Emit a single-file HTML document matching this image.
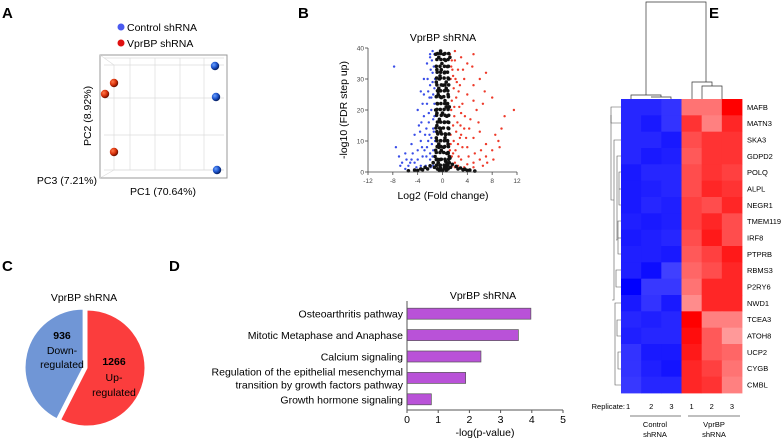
<!DOCTYPE html>
<html><head><meta charset="utf-8"><style>
html,body{margin:0;padding:0;background:#fff}
svg{display:block;font-family:"Liberation Sans",Arial,sans-serif}
</style></head><body>
<svg id="fig" width="784" height="440" viewBox="0 0 784 440">
<defs>
<radialGradient id="gRed" cx="35%" cy="35%" r="65%"><stop offset="0" stop-color="#ff7a4a"/><stop offset="0.6" stop-color="#d8300a"/><stop offset="1" stop-color="#6a1000"/></radialGradient>
<radialGradient id="gBlue" cx="35%" cy="35%" r="65%"><stop offset="0" stop-color="#6aa0ff"/><stop offset="0.6" stop-color="#1a50c8"/><stop offset="1" stop-color="#082060"/></radialGradient>
</defs>
<g font-weight="bold" font-size="15" fill="#000">
<text x="2" y="18">A</text>
<text x="298" y="18">B</text>
<text x="2" y="271">C</text>
<text x="169" y="271">D</text>
<text x="709" y="18">E</text>
</g>

<g id="pca">
<circle cx="121" cy="27" r="3.5" fill="#4a5af0"/>
<text x="127" y="31" font-size="10.5">Control shRNA</text>
<circle cx="121" cy="43" r="3.5" fill="#e01010"/>
<text x="127" y="47" font-size="10.5">VprBP shRNA</text>
<rect x="100" y="55" width="127" height="123" fill="none" stroke="#999" stroke-width="1"/>
<g stroke="#ddd" stroke-width="0.7" fill="none">
<line x1="104" y1="58" x2="224" y2="58"/><line x1="104" y1="65" x2="224" y2="65"/><line x1="104" y1="98" x2="224" y2="98"/><line x1="104" y1="135" x2="224" y2="135"/><line x1="104" y1="170" x2="224" y2="170"/>
<line x1="130" y1="58" x2="130" y2="170"/><line x1="155" y1="58" x2="155" y2="170"/><line x1="180" y1="58" x2="180" y2="170"/><line x1="204" y1="58" x2="204" y2="170"/>
<line x1="100" y1="55" x2="114" y2="65"/><line x1="100" y1="178" x2="114" y2="170"/><line x1="114" y1="65" x2="114" y2="170"/><line x1="114" y1="170" x2="224" y2="170"/>
</g>
<g id="pcaPts"></g>
<text transform="translate(91,116) rotate(-90)" text-anchor="middle" font-size="10.5">PC2 (8.92%)</text>
<text x="97" y="184" text-anchor="end" font-size="10.5">PC3 (7.21%)</text>
<text x="163" y="195" text-anchor="middle" font-size="10.5">PC1 (70.64%)</text>
</g>

<g id="volcano">
<text x="443" y="41" text-anchor="middle" font-size="10.5">VprBP shRNA</text>
<g id="volPts"></g>
<g id="volAxes" stroke="#444" stroke-width="0.8" fill="none"></g>
<g id="volTicks" font-size="6.5" fill="#444"></g>
<text transform="translate(347,110) rotate(-90)" text-anchor="middle" font-size="10.5">-log10 (FDR step up)</text>
<text x="443" y="199" text-anchor="middle" font-size="10.5">Log2 (Fold change)</text>
</g>

<g id="pie">
<text x="84" y="301" text-anchor="middle" font-size="10.5">VprBP shRNA</text>
<g id="pieSlices"></g>
<text x="62" y="339" text-anchor="middle" font-size="10.5" font-weight="bold">936</text>
<text x="62" y="354" text-anchor="middle" font-size="10.5">Down-</text>
<text x="62" y="368" text-anchor="middle" font-size="10.5">regulated</text>
<text x="114" y="365" text-anchor="middle" font-size="10.5" font-weight="bold">1266</text>
<text x="114" y="381" text-anchor="middle" font-size="10.5">Up-</text>
<text x="114" y="396" text-anchor="middle" font-size="10.5">regulated</text>
</g>

<g id="bars">
<text x="483" y="299" text-anchor="middle" font-size="10.5">VprBP shRNA</text>
<g id="barMarks"></g>
<g id="barLabels" font-size="10.5" text-anchor="end"></g>
<g id="barAxis"></g>
<text x="485" y="436" text-anchor="middle" font-size="10.5">-log(p-value)</text>
</g>

<g id="heat">
<g id="heatCells"></g>
<g id="heatLabels" font-size="7.5"></g>
<g stroke="#333" stroke-width="0.7" fill="none">
<polyline points="646,95 646,2 706,2 706,82"/>
<polyline points="631,99 631,95 661,95 661,97"/>
<polyline points="651,97 651,97 671,97 671,99"/>
<polyline points="692,99 692,82 712,82 712,86"/>
<polyline points="702,99 702,86 722,86 722,99"/>
</g>
<g stroke="#555" stroke-width="0.6" fill="none">
<polyline points="621,107 611,107 611,123 621,123"/>
<polyline points="621,140 614,140 614,300 612,300"/>
<polyline points="621,156 617,156 617,240 616,240"/>
<polyline points="621,172 619,172 619,205 621,205"/>
<polyline points="621,189 619,189"/><polyline points="621,221 618,221 618,254 621,254"/>
<polyline points="621,238 618,238"/><polyline points="621,270 616,270 616,287 621,287"/>
<polyline points="621,303 615,303 615,385 621,385"/>
<polyline points="621,320 617,320 617,336 621,336"/>
<polyline points="621,352 618,352 618,369 621,369"/>
<polyline points="611,115 611,200 614,200"/>
</g>
<text x="625" y="409" text-anchor="end" font-size="7.5">Replicate:</text>
<g id="repNums" font-size="7.5" text-anchor="middle"></g>
<line x1="630" y1="416" x2="681" y2="416" stroke="#555" stroke-width="0.7"/>
<line x1="688" y1="416" x2="740" y2="416" stroke="#555" stroke-width="0.7"/>
<text x="655" y="427" text-anchor="middle" font-size="7.5"><tspan x="655">Control</tspan><tspan x="655" dy="10">shRNA</tspan></text>
<text x="714" y="427" text-anchor="middle" font-size="7.5"><tspan x="714">VprBP</tspan><tspan x="714" dy="10">shRNA</tspan></text>
</g>
</svg>
<script>
const pcaGroups = ['vprbp','vprbp','vprbp','control','control','control'];
const pcaX = [114,105,114,215,216,217];
const pcaY = [83,94,152,66,97,170];

const volBlackX = [-0.3,0.2,-0.6,0.5,-0.1,0.8,-0.9,0.3,-0.4,1.0,-1.0,0.1,0.6,-0.7,0.9,-0.2,0.4,-0.8,1.1,-1.1,0.0,0.7,-0.5,0.3,-0.9,1.0,-0.3,0.5,-1.0,0.8,-0.6,0.2,-0.2,0.9,-1.2,1.2,-0.4,0.5,-1.5,1.6,-2,2.2,-2.8,2.9,-3.5,3.6,-4.5,4.4,-5.5,5.2,0,-0.8,0.7,-1.1,1.2,-0.2,-0.5,0.6,-0.7,0.8,-0.9,1.0,-0.3,0.4,-0.6,0.7,-1.0,1.1,-0.4,0.5,-0.8,0.9,-0.5,0.6,-1.3,1.3,-2.4,2.5,-3.2,3.3,-4,4,-0.6,0.6,-0.9,0.9,-1.1,1.1,-0.7,0.7,-0.3,0.3,
-0.95,-0.35,0.25,0.85,-0.8,-0.2,0.4,1.0,-1.0,-0.4,0.2,0.9,-0.85,-0.25,0.35,0.95,-0.9,-0.3,0.3,0.8,-0.75,-0.15,0.45,1.05,-1.05,-0.45,0.15,0.9,-0.8,-0.3,0.3,0.85,-0.95,-0.2,0.4,1.0,-0.9,-0.35,0.25,0.9,-0.85,-0.25,0.35,0.8,-1.0,-0.4,0.2,0.95,-0.8,-0.3,0.3,0.85,-0.9,-0.2,0.4,1.0,-0.95,-0.35,0.25,0.9,-0.85,-0.3,0.35,0.8,-1.0,-0.4,0.3,0.95,-0.9,-0.25,0.3,0.9,-0.8,-0.3,0.4,1.0];
const volBlackY = [39,38,37,36,35,34,33,32,31,30,29,28,27,26,25,24,23,22,21,20,19,18,17,16,15,14,13,12,11,10,9,8,7,6,5,4.5,4,3.5,3,2.5,2,1.8,1.5,1.3,1.0,0.9,0.6,0.6,0.4,0.3,0.5,1,1.5,38,37,33,30,29,25,22,19,16,14,11,8,6,4,3,2,2,1,1,0.5,0.5,1.5,1.5,1,1,0.7,0.7,0.5,0.5,27,21,13,9,7,5,3,3,1.2,1.2,
2.2,2.2,2.2,2.2,4.1,4.1,4.1,4.1,6.3,6.3,6.3,6.3,8.2,8.2,8.2,8.2,10.1,10.1,10.1,10.1,12.3,12.3,12.3,12.3,14.2,14.2,14.2,14.2,16.1,16.1,16.1,16.1,18.3,18.3,18.3,18.3,20.2,20.2,20.2,20.2,22.1,22.1,22.1,22.1,24.3,24.3,24.3,24.3,26.2,26.2,26.2,26.2,28.1,28.1,28.1,28.1,30.3,30.3,30.3,30.3,32.2,32.2,32.2,32.2,34.1,34.1,34.1,34.1,36.3,36.3,36.3,36.3,38.2,38.2,38.2,38.2];
const volBlueX = [-7.5,-7,-6.5,-6,-5.5,-5,-5,-4.5,-4.5,-4,-4,-3.8,-3.5,-3.5,-3.2,-3,-3,-2.8,-2.5,-2.5,-2.5,-2.2,-2,-2,-2,-1.8,-1.8,-1.6,-1.5,-1.5,-1.5,-1.3,-1.3,-1.2,-1.2,-1.4,-2.7,-3.5,-4.2,-6,-1.7,-2.3,-3.2,-2.1,-1.6,-7.8,
-1.4,-1.6,-1.9,-2.1,-2.4,-1.3,-1.5,-1.8,-2.2,-2.6,-3.0,-3.4,-1.4,-1.7,-2.0,-2.3,-2.9,-3.6,-4.0,-4.8,-5.2,-5.8,-6.8,-1.5,-1.9,-2.6,-3.3,-1.3,-1.6,-2.0];
const volBlueY = [8,5,3,6,2,4,9,12,3,20,7,15,26,10,5,18,30,12,35,22,8,16,28,4,38,11,20,32,25,14,7,38,18,30,10,3,2,2,1.5,1,36,26,22,12,5,34,
34,29,33,24,30,22,17,24,19,14,25,16,13,9,6,10,7,13,4,6,3,4,2,2,1.5,5,8,27,39,37];
const volRedX = [1.2,1.5,2,2.5,3,3.5,4,5,1.3,1.8,2.2,2.8,3.2,4,5,6,7,1.4,1.9,2.4,3,3.5,4.5,5.5,6.5,8,1.3,1.8,2.5,3,4,5,6,7,8.5,9.5,1.5,2,3,4,5,6,7,8,9,2.5,3.5,5,6.5,11.5,10,1.6,2.1,2.7,3.8,1.2,1.7,
1.4,1.7,2.0,2.3,2.6,3.3,1.5,1.9,2.2,2.9,3.6,4.3,5.0,5.8,1.3,1.7,2.1,2.6,3.2,4.2,5.2,6.2,7.2,8.2,9.2,1.6,2.0,2.8,4.8,6.8];
const volRedY = [38,36,39,33,37,30,35,38,30,27,24,28,22,25,28,30,32,20,18,16,19,14,17,20,22,24,12,10,9,12,8,11,13,9,12,14,5,3,4,2.5,3,4,5,7,10,2,1.5,1.5,2,20,18,33,30,21,11,7,15,
34,31,36,29,26,33,23,21,13,15,18,14,23,16,9,6,7,5,8,5,6,7,3,4,8,2,1.5,11,34,26];
const volXTicks = [-12,-8,-4,0,4,8,12];
const volYTicks = [0,10,20,30,40];

const pieLabels = ['Up-regulated','Down-regulated'];
const pieValues = [1266,936];

const pathways = ['Osteoarthritis pathway','Mitotic Metaphase and Anaphase','Calcium signaling','Regulation of the epithelial mesenchymal|transition by growth factors pathway','Growth hormone signaling'];
const pathwayValues = [3.97,3.57,2.37,1.88,0.78];
const barTicks = [0,1,2,3,4,5];

const genes = ['MAFB','MATN3','SKA3','GDPD2','POLQ','ALPL','NEGR1','TMEM119','IRF8','PTPRB','RBMS3','P2RY6','NWD1','TCEA3','ATOH8','UCP2','CYGB','CMBL'];
const replicates = ['1','2','3','1','2','3'];
const heatValues = [
[-0.85,-0.85,-0.8,0.55,0.55,1.0],
[-0.85,-0.9,-0.8,0.8,0.5,0.85],
[-0.85,-0.85,-0.9,0.7,0.8,0.8],
[-0.85,-0.9,-0.88,0.65,0.8,0.8],
[-0.9,-0.85,-0.85,0.7,0.8,0.75],
[-0.9,-0.88,-0.85,0.7,0.85,0.8],
[-0.9,-0.85,-0.88,0.75,0.7,0.85],
[-0.88,-0.9,-0.88,0.75,0.85,0.7],
[-0.9,-0.88,-0.85,0.7,0.9,0.7],
[-0.88,-0.88,-0.9,0.65,0.75,0.9],
[-0.88,-0.95,-0.75,0.6,0.7,0.85],
[-1.0,-0.78,-0.78,0.55,0.85,0.85],
[-0.9,-0.8,-0.9,0.45,0.85,0.85],
[-0.85,-0.88,-0.85,1.0,0.5,0.5],
[-0.88,-0.85,-0.85,0.95,0.65,0.4],
[-0.8,-0.9,-0.9,0.9,0.65,0.6],
[-0.8,-0.88,-0.92,0.85,0.75,0.55],
[-0.78,-0.85,-0.85,0.85,0.8,0.5]];

const NS='http://www.w3.org/2000/svg';
function mk(tag,attrs,parent){const e=document.createElementNS(NS,tag);for(const k in attrs)e.setAttribute(k,attrs[k]);parent.appendChild(e);return e;}

const pcaG=document.getElementById('pcaPts');
for(let i=0;i<pcaX.length;i++){
  const c=mk('circle',{cx:pcaX[i],cy:pcaY[i],r:4.2,fill:pcaGroups[i]==='control'?'url(#gBlue)':'url(#gRed)'},pcaG);
  
  
}

const vx0=368,vx1=517,vy0=172,vy1=48;
function vX(v){return vx0+(v+12)/24*(vx1-vx0);}
function vY(v){return vy0-v/40*(vy0-vy1);}
const vp=document.getElementById('volPts');
function drawPts(xs,ys,col,r,name){
  for(let i=0;i<xs.length;i++){
    const c=mk('circle',{cx:vX(xs[i]).toFixed(1),cy:vY(ys[i]).toFixed(1),r:r,fill:col},vp);
    
    
  }
}
drawPts(volBlueX,volBlueY,'#3a4ee8',1.2,'volcano-point-down');
drawPts(volRedX,volRedY,'#ee3a2a',1.2,'volcano-point-up');
drawPts(volBlackX,volBlackY,'#111',1.8,'volcano-point-ns');
const va=document.getElementById('volAxes');
let ax=mk('line',{x1:vx0,y1:vy1,x2:vx0,y2:vy0},va);


ax=mk('line',{x1:vx0,y1:vy0,x2:vx1,y2:vy0},va);


const vt=document.getElementById('volTicks');
volXTicks.forEach(t=>{
  mk('line',{x1:vX(t),y1:vy0,x2:vX(t),y2:vy0+3,stroke:'#444','stroke-width':0.8},va);
  const e=mk('text',{x:vX(t),y:vy0+11,'text-anchor':'middle'},vt);e.textContent=t;
  
  
});
volYTicks.forEach(t=>{
  mk('line',{x1:vx0-3,y1:vY(t),x2:vx0,y2:vY(t),stroke:'#444','stroke-width':0.8},va);
  const e=mk('text',{x:vx0-4,y:vY(t)+2.5,'text-anchor':'end'},vt);e.textContent=t;
  
  
});

const pg=document.getElementById('pieSlices');
const pcx=87,pcy=368,pr=58;
const tot=pieValues.reduce((a,b)=>a+b,0);
let ang=0;
const pieCols=['#fb3d3d','#7096d6'];
pieValues.forEach((v,i)=>{
  const a0=ang, a1=ang+v/tot*2*Math.PI; ang=a1;
  const mid=(a0+a1)/2; const off=i===1?4:0;
  const cx=pcx+off*Math.sin(mid), cy=pcy-off*Math.cos(mid);
  const x0=cx+pr*Math.sin(a0),y0=cy-pr*Math.cos(a0),x1=cx+pr*Math.sin(a1),y1=cy-pr*Math.cos(a1);
  const large=(a1-a0)>Math.PI?1:0;
  const p=mk('path',{d:`M${cx},${cy} L${x0},${y0} A${pr},${pr} 0 ${large} 1 ${x1},${y1} Z`,fill:pieCols[i],stroke:'#fff','stroke-width':1},pg);
  
  
});

const bx0=407,bx1=563,bTop=303,bBot=410;
function bX(v){return bx0+v/5*(bx1-bx0);}
const rowH=(bBot-bTop)/pathways.length;
const bm=document.getElementById('barMarks'), bl=document.getElementById('barLabels'), ba=document.getElementById('barAxis');
pathways.forEach((p,i)=>{
  const cy=bTop+rowH*(i+0.5);
  const r=mk('rect',{x:bx0,y:cy-5.5,width:bX(pathwayValues[i])-bx0,height:11,fill:'#b952d8',stroke:'#555','stroke-width':0.7},bm);
  
  
  const lines=p.split('|');
  lines.forEach((ln,j)=>{
    const t=mk('text',{x:bx0-4,y:cy+4+(j-(lines.length-1)/2)*13},bl);t.textContent=ln;
    
    
  });
});
let bax=mk('line',{x1:bx0,y1:bTop-2,x2:bx0,y2:bBot,stroke:'#555','stroke-width':1},ba);


bax=mk('line',{x1:bx0,y1:bBot,x2:bx1,y2:bBot,stroke:'#555','stroke-width':1},ba);


barTicks.forEach(t=>{
  mk('line',{x1:bX(t),y1:bBot,x2:bX(t),y2:bBot+3,stroke:'#555','stroke-width':1},ba);
  const e=mk('text',{x:bX(t),y:bBot+13,'text-anchor':'middle','font-size':10.5},ba);e.textContent=t;
  
  
});

const hx0=621,hx1=742,hy0=99,hy1=393;
const cw=(hx1-hx0)/6, ch=(hy1-hy0)/genes.length;
const hc=document.getElementById('heatCells'), hl=document.getElementById('heatLabels'), rn=document.getElementById('repNums');
function col(v){
  if(v<0){const k=Math.round(255*(1+v));return `rgb(${k},${k},255)`;}
  const k=Math.round(255*(1-v));return `rgb(255,${k},${k})`;
}
genes.forEach((g,r)=>{
  heatValues[r].forEach((v,c)=>{
    const e=mk('rect',{x:(hx0+c*cw).toFixed(2),y:(hy0+r*ch).toFixed(2),width:(cw+0.4).toFixed(2),height:(ch+0.4).toFixed(2),fill:col(v)},hc);
    
    
  });
  const t=mk('text',{x:hx1+5,y:hy0+ch*(r+0.5)+2.7},hl);t.textContent=g;
  
  
});
replicates.forEach((rp,c)=>{
  const t=mk('text',{x:hx0+cw*(c+0.5)+(c===0?-3:0),y:409},rn);t.textContent=rp;
  
  
});
</script>
</body></html>
